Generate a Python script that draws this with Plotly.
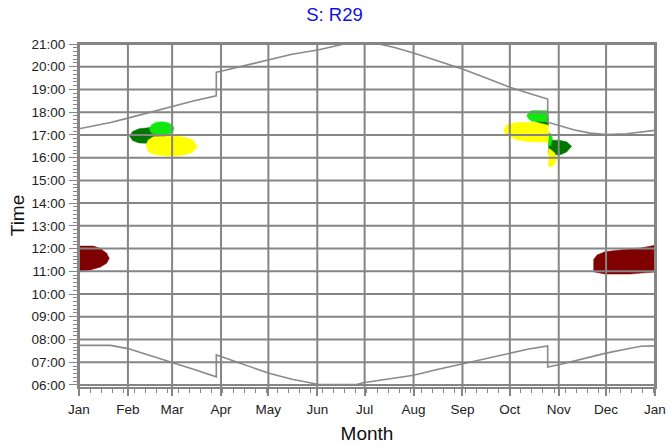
import plotly.graph_objects as go

# ---- axis categories -------------------------------------------------------
month_starts = [0, 31, 59, 90, 120, 151, 181, 212, 243, 273, 304, 334, 365]
month_labels = ["Jan", "Feb", "Mar", "Apr", "May", "Jun", "Jul", "Aug",
                "Sep", "Oct", "Nov", "Dec", "Jan"]
hours = list(range(6, 22))
hour_labels = [f"{h:02d}:00" for h in hours]

# ---- sunrise / sunset (local clock time, hours) -----------------------------
sunset_days = [0, 10, 20, 31, 45, 59, 73, 87, 87, 90, 105, 121, 135, 152, 160,
               168, 190, 200, 212, 227, 243, 258, 273, 285, 297, 297, 304, 314,
               324, 334, 347, 356, 365]
sunset_time = [17.27, 17.40, 17.55, 17.74, 18.00, 18.26, 18.50, 18.72, 19.76,
               19.80, 20.05, 20.31, 20.55, 20.75, 20.88, 21.0, 21.0, 20.85,
               20.60, 20.27, 19.90, 19.50, 19.10, 18.83, 18.58, 17.56, 17.42,
               17.22, 17.08, 17.02, 17.05, 17.12, 17.20]

sunrise_days = [0, 20, 31, 45, 59, 73, 87, 87, 90, 100, 121, 135, 145, 152,
                176, 180, 195, 212, 227, 243, 258, 273, 285, 297, 297, 304,
                319, 334, 347, 356, 365]
sunrise_time = [7.74, 7.74, 7.60, 7.30, 7.00, 6.68, 6.36, 7.32, 7.25, 7.00,
                6.50, 6.25, 6.11, 6.02, 6.02, 6.10, 6.25, 6.43, 6.68, 6.93,
                7.17, 7.40, 7.58, 7.72, 6.79, 6.89, 7.15, 7.40, 7.58, 7.70,
                7.72]

# ---- shadow periods: day of year, window start / end (hours) ---------------
red_jan_days = [0.5, 7, 9, 13.3, 17.5, 19.2]
red_jan_end = [12.11, 12.11, 12.11, 12.01, 11.79, 11.57]
red_jan_start = [10.98, 11.06, 11.09, 11.18, 11.35, 11.57]

red_dec_days = [326, 326.3, 328.3, 333.3, 340, 349.2, 356, 361.8, 365]
red_dec_end = [11.53, 11.53, 11.72, 11.86, 11.92, 11.97, 12.03, 12.10, 12.15]
red_dec_start = [10.98, 10.98, 10.95, 10.88, 10.87, 10.88, 10.92, 10.96, 10.97]

dgreen_feb_days = [32, 34, 38, 43, 48, 53, 57]
dgreen_feb_end = [16.95, 17.15, 17.27, 17.32, 17.35, 17.30, 17.10]
dgreen_feb_start = [16.95, 16.75, 16.65, 16.63, 16.70, 16.80, 17.10]

lgreen_feb_days = [44.6, 46, 49, 53, 57, 59.5, 60.2]
lgreen_feb_end = [17.25, 17.45, 17.56, 17.58, 17.52, 17.40, 17.30]
lgreen_feb_start = [17.25, 17.08, 17.03, 17.02, 17.04, 17.12, 17.30]

yellow_feb_days = [42.5, 43.9, 47.1, 55.6, 61.9, 68.2, 72.4, 75.0]
yellow_feb_end = [16.56, 16.78, 16.92, 16.95, 16.95, 16.88, 16.75, 16.48]
yellow_feb_start = [16.56, 16.26, 16.15, 16.07, 16.08, 16.14, 16.26, 16.48]

dgreen_oct_days = [289, 292, 297.4]
dgreen_oct_end = [17.62, 17.70, 17.75]
dgreen_oct_start = [17.62, 17.45, 17.38]

dgreen_nov_days = [297.4, 300, 305, 309, 312.2]
dgreen_nov_end = [16.78, 16.78, 16.76, 16.70, 16.50]
dgreen_nov_start = [16.20, 16.12, 16.13, 16.25, 16.50]

lgreen_oct_days = [283.7, 285, 287, 292, 297.4]
lgreen_oct_end = [17.85, 17.98, 18.07, 18.08, 18.06]
lgreen_oct_start = [17.85, 17.70, 17.60, 17.58, 17.58]

lgreen_nov_days = [297.4, 299, 300]
lgreen_nov_end = [17.10, 17.05, 16.85]
lgreen_nov_start = [16.50, 16.55, 16.85]

yellow_oct_days = [268.9, 271, 277.4, 285.8, 290, 294.2, 297.4]
yellow_oct_end = [17.20, 17.45, 17.55, 17.56, 17.55, 17.48, 17.42]
yellow_oct_start = [17.20, 17.00, 16.78, 16.70, 16.68, 16.68, 16.68]

yellow_nov_days = [297.4, 299, 301.5, 302.7]
yellow_nov_end = [16.40, 16.35, 16.20, 16.00]
yellow_nov_start = [15.62, 15.60, 15.72, 15.95]

DARK_RED = "#800000"
DARK_GREEN = "#007800"
LIGHT_GREEN = "#10e810"
YELLOW = "#ffff00"
GRID = "#858585"
FONT = "Liberation Sans, Arial, sans-serif"

fig = go.Figure()


def add_window(days, start, end, color):
    xs = list(days) + list(days)[::-1]
    ys = list(end) + list(start)[::-1]
    fig.add_trace(go.Scatter(
        x=xs, y=ys, mode="lines", fill="toself", fillcolor=color,
        line=dict(width=0.5, color=color), hoverinfo="skip", showlegend=False,
    ))


add_window(red_jan_days, red_jan_start, red_jan_end, DARK_RED)
add_window(red_dec_days, red_dec_start, red_dec_end, DARK_RED)
add_window(dgreen_feb_days, dgreen_feb_start, dgreen_feb_end, DARK_GREEN)
add_window(dgreen_oct_days, dgreen_oct_start, dgreen_oct_end, DARK_GREEN)
add_window(dgreen_nov_days, dgreen_nov_start, dgreen_nov_end, DARK_GREEN)
add_window(lgreen_feb_days, lgreen_feb_start, lgreen_feb_end, LIGHT_GREEN)
add_window(lgreen_oct_days, lgreen_oct_start, lgreen_oct_end, LIGHT_GREEN)
add_window(lgreen_nov_days, lgreen_nov_start, lgreen_nov_end, LIGHT_GREEN)
add_window(yellow_feb_days, yellow_feb_start, yellow_feb_end, YELLOW)
add_window(yellow_oct_days, yellow_oct_start, yellow_oct_end, YELLOW)
add_window(yellow_nov_days, yellow_nov_start, yellow_nov_end, YELLOW)

for d, t in ((sunset_days, sunset_time), (sunrise_days, sunrise_time)):
    fig.add_trace(go.Scatter(
        x=d, y=t, mode="lines", line=dict(color="#8a8a8a", width=1.6),
        hoverinfo="skip", showlegend=False,
    ))

# grid drawn over the shaded windows
shapes = []
for m in month_starts:
    shapes.append(dict(type="line", xref="x", yref="paper", x0=m, x1=m,
                       y0=0, y1=1, layer="above",
                       line=dict(color=GRID, width=2)))
for h in hours:
    shapes.append(dict(type="line", xref="paper", yref="y", x0=0, x1=1,
                       y0=h, y1=h, layer="above",
                       line=dict(color=GRID, width=2)))

fig.update_layout(
    width=669, height=446,
    margin=dict(l=79, r=14, t=44, b=59),
    paper_bgcolor="white", plot_bgcolor="white",
    shapes=shapes,
    title=dict(text="S: R29", x=0.5, xanchor="center", y=0.968,
               yanchor="middle", yref="container",
               font=dict(family=FONT, size=18.5, color="#1010e0")),
    font=dict(family=FONT, size=13.5, color="#222222"),
)

fig.update_xaxes(
    range=[0, 365], tickmode="array", tickvals=month_starts,
    ticktext=month_labels, showgrid=False, zeroline=False, automargin=False,
    showline=True, linecolor=GRID, linewidth=2, mirror=True,
    ticks="outside", ticklen=7, tickwidth=2, tickcolor=GRID,
    ticklabelstandoff=2,
    minor=dict(tickmode="linear", tick0=0, dtick=7, ticks="outside",
               ticklen=4, tickwidth=1, tickcolor=GRID, showgrid=False),
    tickfont=dict(size=13.5, color="#222222"),
    title=dict(text="Month", font=dict(size=19, color="#111111"), standoff=10),
    layer="above traces",
)
fig.update_yaxes(
    range=[5.91, 21.0], tickmode="array", tickvals=hours,
    ticktext=hour_labels, showgrid=False, zeroline=False, automargin=False,
    showline=True, linecolor=GRID, linewidth=2, mirror=True,
    ticks="outside", ticklen=8, tickwidth=1, tickcolor=GRID,
    ticklabelstandoff=1,
    minor=dict(tickmode="linear", tick0=6, dtick=1 / 6, ticks="outside",
               ticklen=4, tickwidth=1, tickcolor=GRID, showgrid=False),
    tickfont=dict(size=13.5, color="#222222"),
    title=dict(text="Time", font=dict(size=19, color="#111111"), standoff=2),
    layer="above traces",
)

fig.write_html("out.html")
